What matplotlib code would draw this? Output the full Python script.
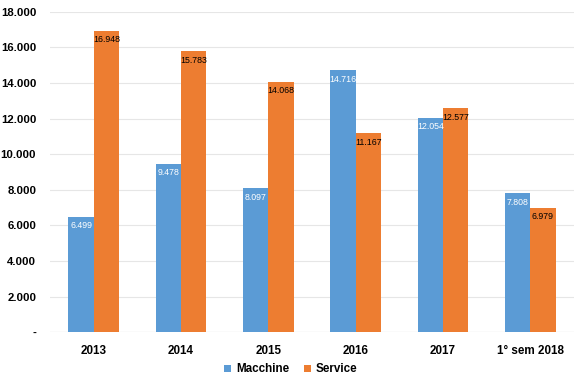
import numpy as np
import matplotlib.pyplot as plt

plt.rcParams['font.family'] = ['Liberation Sans', 'DejaVu Sans']

categories = ['2013', '2014', '2015', '2016', '2017', '1° sem 2018']
macchine = [6499, 9478, 8097, 14716, 12054, 7808]
service = [16948, 15783, 14068, 11167, 12577, 6979]
yticks = [0, 2000, 4000, 6000, 8000, 10000, 12000, 14000, 16000, 18000]

blue = '#5B9BD5'
orange = '#ED7D31'

def fmt(v):
    if v == 0:
        return '-'
    return '{:,}'.format(v).replace(',', '.')

fig = plt.figure(figsize=(5.82, 3.84), dpi=100)
ax = fig.add_axes([0.086, 0.135, 0.9, 0.834])

x = np.arange(len(categories))
w = 0.29
b1 = ax.bar(x - w / 2, macchine, w, color=blue, label='Macchine', zorder=2)
b2 = ax.bar(x + w / 2, service, w, color=orange, label='Service', zorder=2)

for rect, v in zip(b1, macchine):
    ax.text(rect.get_x() + rect.get_width() / 2, v - 250, fmt(v),
            ha='center', va='top', fontsize=6.3, color='white', zorder=3)
for rect, v in zip(b2, service):
    ax.text(rect.get_x() + rect.get_width() / 2, v - 250, fmt(v),
            ha='center', va='top', fontsize=6.3, color='black', zorder=3)

ax.set_xlim(-0.5, len(categories) - 0.5)
ax.set_ylim(0, 18000)
ax.set_yticks(yticks)
ax.set_yticklabels([fmt(v) for v in yticks], fontsize=8.2, fontweight='bold')
ax.set_xticks(x)
ax.set_xticklabels(categories, fontsize=8.4, fontweight='bold')
ax.tick_params(length=0, pad=9)
ax.tick_params(axis='y', pad=10)
ax.grid(axis='y', color='#e6e6e6', linewidth=0.8, zorder=0)
for s in ax.spines.values():
    s.set_visible(False)
ax.axhline(0, color='#d9d9d9', linewidth=0.8, zorder=1)

leg = fig.legend(loc='lower center', ncol=2, frameon=False, bbox_to_anchor=(0.5, -0.005),
                 prop={'weight': 'bold', 'size': 8.4}, handlelength=0.6, handleheight=0.6,
                 columnspacing=1.3, handletextpad=0.4)

fig.savefig('out.png', dpi=100)
